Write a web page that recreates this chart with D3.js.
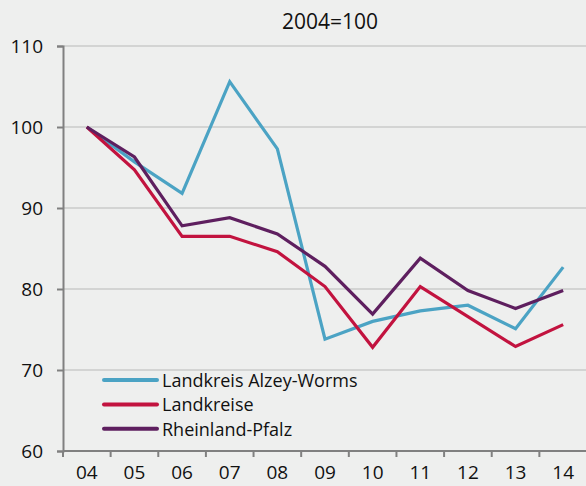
<!DOCTYPE html>
<html>
<head>
<meta charset="utf-8">
<script src="https://cdn.jsdelivr.net/npm/d3@7"></script>
<style>
  body { margin: 0; background: #eeefee; }
  svg { display: block; font-family: "Open Sans", "Noto Sans", sans-serif; }
</style>
</head>
<body>
<div id="canvas"></div>
<script>
// data, index 2004 = 100
var years = ["04","05","06","07","08","09","10","11","12","13","14"];
var alzeyWorms = [100, 95.7, 91.8, 105.6, 97.3, 73.8, 76.0, 77.3, 78.0, 75.1, 82.7];
var landkreise = [100, 94.7, 86.5, 86.5, 84.6, 80.3, 72.8, 80.3, 76.6, 72.9, 75.6];
var rlp        = [100, 96.3, 87.8, 88.8, 86.8, 82.8, 76.9, 83.8, 79.8, 77.6, 79.8];
var seriesNames = ["Landkreis Alzey-Worms", "Landkreise", "Rheinland-Pfalz"];
var yTicks = [60, 70, 80, 90, 100, 110];

var colors = ["#4ba3c4", "#c2133f", "#5e1f5f"];
var series = [alzeyWorms, landkreise, rlp];

var W = 586, H = 486;
var m = {t:46, r:0, b:35, l:63};
var w = W - m.l - m.r, h = H - m.t - m.b;

var svg = d3.select('#canvas').append('svg')
    .attr('width', W).attr('height', H);

svg.append('rect').attr('width', W).attr('height', H).attr('fill', '#eeefee');

var plot = svg.append('g').attr('transform', 'translate(' + m.l + ',' + m.t + ')');

var x = d3.scaleBand().domain(years).range([0, 524]);
var y = d3.scaleLinear().domain([60, 110]).range([h, 0]);

// grid
plot.selectAll('.grid').data(yTicks.slice(1)).enter()
    .append('line').attr('class', 'grid')
    .attr('x1', 0).attr('x2', w)
    .attr('y1', function(d){ return y(d); })
    .attr('y2', function(d){ return y(d); })
    .attr('stroke', '#cacbca').attr('stroke-width', 1.5);

// y axis
var yAxis = plot.append('g')
    .call(d3.axisLeft(y).tickValues(yTicks).tickSize(6).tickPadding(14));
yAxis.select('.domain').attr('stroke', '#808080').attr('stroke-width', 2);
yAxis.selectAll('.tick line').attr('stroke', '#808080').attr('stroke-width', 2);
yAxis.selectAll('.tick text').attr('fill', '#111').style('font-size', '19px')
    .style('font-family', '"Open Sans", sans-serif');

// x axis, ticks on band boundaries
var xAxis = plot.append('g').attr('transform', 'translate(0,' + h + ')')
    .call(d3.axisBottom(x).tickSize(0).tickPadding(15));
xAxis.select('.domain').attr('stroke', '#808080').attr('stroke-width', 2)
    .attr('d', 'M0,0H' + w);
xAxis.selectAll('.tick text').attr('fill', '#111').style('font-size', '19px')
    .style('font-family', '"Open Sans", sans-serif');
xAxis.selectAll('.bnd').data(years).enter()
    .append('line').attr('class', 'bnd')
    .attr('x1', function(d){ return x(d); })
    .attr('x2', function(d){ return x(d); })
    .attr('y1', 0).attr('y2', 6)
    .attr('stroke', '#808080').attr('stroke-width', 2);

// lines
var line = d3.line()
    .x(function(d, i){ return x(years[i]) + x.bandwidth() / 2; })
    .y(function(d){ return y(d); });

plot.selectAll('.series').data(series).enter()
    .append('path').attr('class', 'series')
    .attr('d', line)
    .attr('fill', 'none')
    .attr('stroke', function(d, i){ return colors[i]; })
    .attr('stroke-width', 3.2)
    .attr('stroke-linejoin', 'miter');

// title
svg.append('text').attr('x', 330).attr('y', 29)
    .attr('text-anchor', 'middle').style('font-size', '21px').attr('fill', '#111')
    .text('2004=100');

// legend
var legend = svg.append('g').attr('transform', 'translate(104,380)');
var items = legend.selectAll('.item').data(seriesNames).enter()
    .append('g').attr('class', 'item')
    .attr('transform', function(d, i){ return 'translate(0,' + (i * 24.4) + ')'; });
items.append('line').attr('x1', 0).attr('x2', 53).attr('y1', 0).attr('y2', 0)
    .attr('stroke', function(d, i){ return colors[i]; })
    .attr('stroke-width', 4).attr('stroke-linecap', 'round');
items.append('text').attr('x', 58).attr('y', 7)
    .style('font-size', '18px').attr('fill', '#111')
    .text(function(d){ return d; });
</script>
</body>
</html>
